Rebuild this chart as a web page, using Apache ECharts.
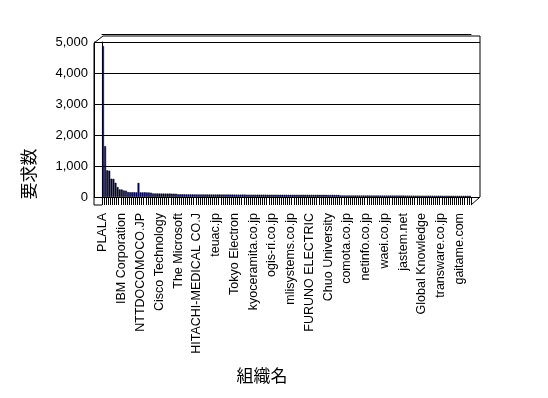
<!DOCTYPE html>
<html>
<head>
<meta charset="utf-8">
<script src="https://cdn.jsdelivr.net/npm/echarts@6/dist/echarts.min.js"></script>
<style>
  html, body { margin: 0; padding: 0; background: #fff; }
  #chart { width: 548px; height: 398px; }
</style>
</head>
<body>
<div id="chart"></div>
<script>
// labels shown on the axis (every 9th organisation)
var shownLabels = ['PLALA', 'IBM Corporation', 'NTTDOCOMOCO.JP', 'Cisco Technology', 'The Microsoft',
  'HITACHI-MEDICAL CO.J', 'teuac.jp', 'Tokyo Electron', 'kyoceramita.co.jp', 'ogis-ri.co.jp',
  'mlisystems.co.jp', 'FURUNO ELECTRIC', 'Chuo University', 'comota.co.jp', 'netinfo.co.jp',
  'waei.co.jp', 'jastem.net', 'Global Knowledge', 'transware.co.jp', 'gaitame.com'];
var labelStep = 9;

// requests per organisation
var requests = [
  4870, 1640, 860, 850, 590, 585, 460, 320, 245, 240,
  210, 205, 160, 155, 155, 155, 150, 455, 150, 150,
  150, 148, 145, 140, 115, 115, 113, 113, 112, 112,
  110, 110, 110, 108, 108, 105, 88, 87, 86, 86,
  85, 85, 84, 84, 84, 83, 83, 82, 82, 82,
  81, 81, 81, 80, 80, 80, 80, 79, 79, 79,
  79, 78, 78, 78, 78, 77, 77, 77, 77, 76,
  76, 76, 76, 76, 75, 75, 75, 75, 75, 74,
  74, 74, 74, 74, 73, 73, 73, 73, 73, 72,
  72, 72, 72, 72, 71, 71, 71, 71, 71, 70,
  70, 70, 70, 70, 69, 69, 69, 69, 68, 68,
  68, 68, 67, 67, 52, 52, 51, 51, 51, 50,
  50, 50, 50, 49, 49, 49, 49, 49, 48, 48,
  48, 48, 48, 47, 47, 47, 47, 47, 46, 46,
  46, 46, 46, 45, 45, 45, 45, 45, 44, 44,
  44, 44, 44, 43, 43, 43, 43, 43, 42, 42,
  42, 42, 42, 41, 41, 41, 41, 40, 40, 40,
  40, 40, 40, 40, 40, 40, 40
];

var yTicks = [0, 1000, 2000, 3000, 4000, 5000];

var categories = requests.map(function (v, i) {
  return i % labelStep === 0 ? (shownLabels[i / labelStep] || '') : '';
});

// frame geometry (3D-ish box like the original)
var L = 102, R = 471, TOP = 42, BOT = 197, DX = 9, DY = 8;

var chart = echarts.init(document.getElementById('chart'), null, { renderer: 'canvas' });

var labelFont = 'Liberation Sans';
var option = {
  animation: false,
  backgroundColor: '#fff',
  grid: [
    { left: L, right: 548 - (R + DX), top: TOP, bottom: 398 - BOT },   // back wall
    { left: L, right: 548 - R, top: TOP, bottom: 398 - BOT }           // bars
  ],
  xAxis: [
    { gridIndex: 0, type: 'value', show: false, min: 0, max: 1 },
    {
      gridIndex: 1, type: 'category', data: categories,
      axisLine: { show: true, lineStyle: { color: '#000', width: 1 } },
      axisTick: { show: true, interval: 0, length: DY, alignWithLabel: false, lineStyle: { color: '#000' } },
      axisLabel: {
        interval: labelStep - 1, rotate: 90, margin: 16,
        color: '#000', fontFamily: labelFont, fontSize: 12.5
      },
      splitLine: { show: false }
    },
    {
      gridIndex: 1, type: 'category', data: categories, offset: DY,
      axisLine: { show: true, lineStyle: { color: '#000', width: 1 } },
      axisTick: { show: false }, axisLabel: { show: false }
    }
  ],
  yAxis: [
    {
      gridIndex: 0, type: 'value', min: 0, max: 5000, interval: 1000, position: 'left',
      axisLine: { show: true, lineStyle: { color: '#000' } },
      axisTick: { show: false }, axisLabel: { show: false },
      splitLine: { show: true, lineStyle: { color: '#000', width: 1 } }
    },
    {
      gridIndex: 0, type: 'value', min: 0, max: 5000, interval: 1000, position: 'left', offset: DX - 1,
      axisLine: { show: true, lineStyle: { color: '#000' } },
      axisTick: { show: true, inside: true, length: DX - 1, lineStyle: { color: '#000' } },
      axisLabel: {
        margin: 6, color: '#000', fontFamily: labelFont, fontSize: 13,
        formatter: function (v) { return v.toLocaleString('en-US'); }
      },
      splitLine: { show: false }
    },
    { gridIndex: 1, type: 'value', min: 0, max: 5000, interval: 1000, show: false }
  ],
  series: [{
    type: 'bar',
    xAxisIndex: 1, yAxisIndex: 2,
    data: requests,
    barCategoryGap: '10%',
    itemStyle: { color: '#000080', borderColor: '#000', borderWidth: 0.5 },
    silent: true
  }],
  graphic: [
    {
      type: 'polyline', silent: true,
      shape: { points: [[L, BOT + DY], [L - DX + 1, BOT + DY], [L - DX + 1, TOP + 1], [L + 1, TOP - 6], [R + DX, TOP - 6], [R + DX, BOT], [R, BOT + DY]] },
      style: { stroke: '#000', lineWidth: 1, fill: null }
    },
    {
      type: 'text', silent: true, x: 29, y: 174, rotation: Math.PI / 2,
      style: { text: '要求数', font: '17px "Noto Sans CJK JP"', fill: '#000', textAlign: 'center', textVerticalAlign: 'middle' }
    },
    {
      type: 'text', silent: true, x: 262, y: 376,
      style: { text: '組織名', font: '17px "Noto Sans CJK JP"', fill: '#000', textAlign: 'center', textVerticalAlign: 'middle' }
    }
  ]
};
chart.setOption(option);
</script>
</body>
</html>
